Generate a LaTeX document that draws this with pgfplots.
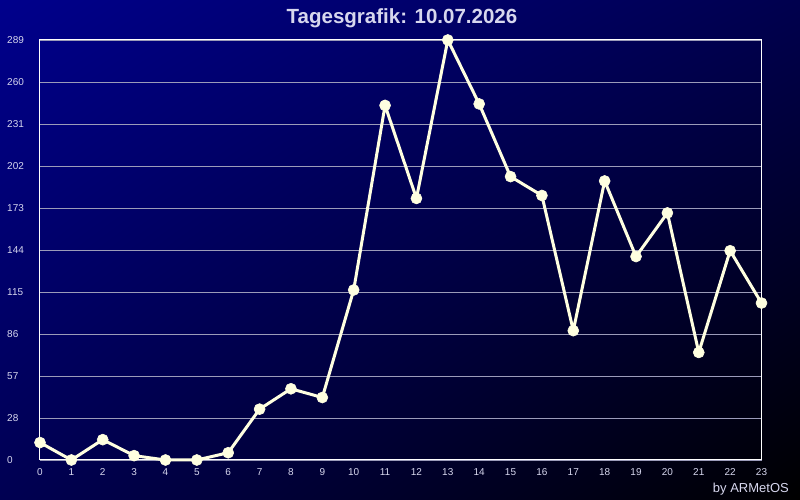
\documentclass[border=0pt]{standalone}
\usepackage{pgfplots}
\pgfplotsset{compat=1.18}
\usetikzlibrary{shadings}
\usepackage{fontspec}
\setmainfont{Liberation Sans}
\definecolor{bgtl}{RGB}{0,0,140}
\definecolor{bgtr}{RGB}{0,0,78}
\definecolor{bgbl}{RGB}{0,0,82}
\definecolor{bgbr}{RGB}{0,0,0}
\definecolor{txt}{RGB}{215,215,238}
\definecolor{gridc}{RGB}{155,155,185}
\definecolor{linec}{RGB}{255,255,224}
\begin{document}
\begin{tikzpicture}
\useasboundingbox (0,0) rectangle (800pt,500pt);
\shade[upper left=bgtl, upper right=bgtr, lower left=bgbl, lower right=bgbr] (0,0) rectangle (800pt,500pt);
\begin{axis}[
  at={(40pt,40pt)}, anchor=south west,
  scale only axis, width=721.5pt, height=420pt,
  xmin=0, xmax=23, ymin=0, ymax=289,
  xtick={0,1,...,23},
  ytick={0,28.9,57.8,86.7,115.6,144.5,173.4,202.3,231.2,260.1,289},
  yticklabels={0,28,57,86,115,144,173,202,231,260,289},
  major tick length=0pt,
  ymajorgrids, grid style={gridc, line width=0.8pt},
  axis line style={white, line width=1pt},
  tick label style={font=\fontsize{10}{12}\selectfont, text=txt, inner sep=0pt},
  /pgf/number format/assume math mode=true,
  yticklabel style={anchor=west, xshift=-33pt},
  xticklabel style={anchor=north, yshift=-8pt},
  clip=false,
]
\addplot[color=linec, line width=3pt, line join=round, mark=*, mark size=5.5pt,
  mark options={solid, fill=linec, draw=linec, line width=0.6pt}] coordinates {
(0,12) (1,0) (2,14) (3,3) (4,0) (5,0) (6,5) (7,35) (8,49) (9,43)
(10,117) (11,244) (12,180) (13,289) (14,245) (15,195) (16,182) (17,89)
(18,192) (19,140) (20,170) (21,74) (22,144) (23,108)
};
\end{axis}
\node[anchor=base, font=\bfseries\fontsize{20.5}{24}\selectfont, text=txt] at (402pt,476pt) {Tagesgrafik: 10.07.2026};
\node[anchor=base east, inner sep=0pt, font=\fontsize{13}{15}\selectfont, text=txt] at (789pt,7.3pt) {by ARMetOS};
\end{tikzpicture}
\end{document}
